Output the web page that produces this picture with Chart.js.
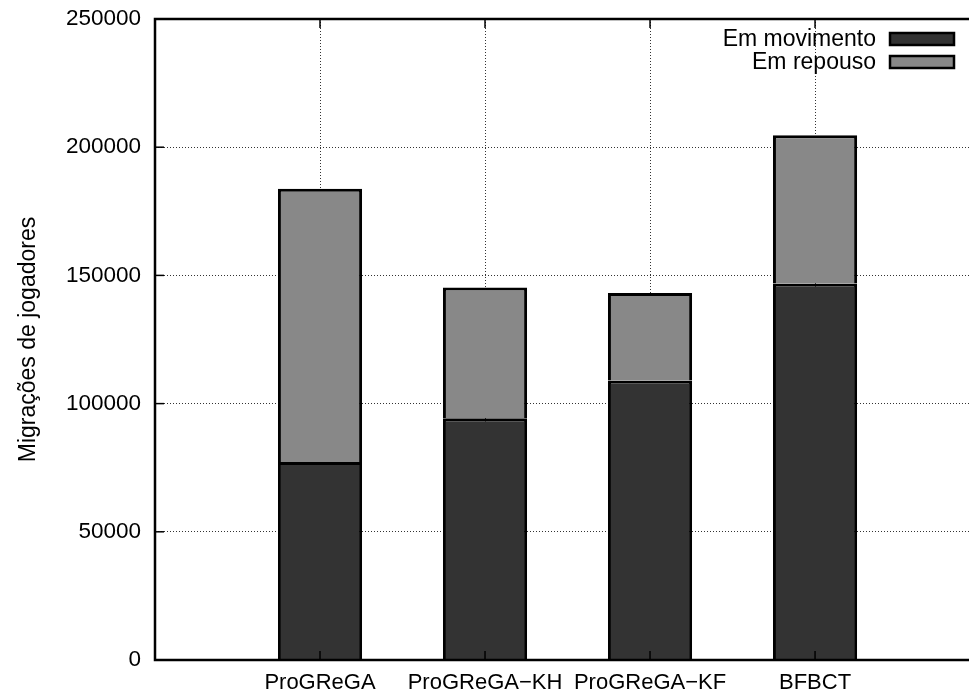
<!DOCTYPE html>
<html>
<head>
<meta charset="utf-8">
<script src="https://cdn.jsdelivr.net/npm/chart.js@4.4.0/dist/chart.umd.min.js"></script>
<style>
  html, body { margin: 0; padding: 0; background: #fff; }
  #wrap { width: 969px; height: 695px; }
</style>
</head>
<body>
<div id="wrap"><canvas id="migChart" width="969" height="695"></canvas></div>
<script>
// ──────── DATA ────────
const categories = ["ProGReGA", "ProGReGA\u2212KH", "ProGReGA\u2212KF", "BFBCT"];
const seriesNames = ["Em movimento", "Em repouso"];
const moving = [77200, 94300, 109000, 146800];
const resting = [106600, 51000, 34100, 57900];
const yTicks = [0, 50000, 100000, 150000, 200000, 250000];
const yTitle = "Migrações de jogadores";

const FONT = "'Liberation Sans', Arial, Helvetica, sans-serif";
const DARK = "#333333";
const LIGHT = "#888888";

// ──────── FRAME + INWARD TICKS (gnuplot look) ────────
const framePlugin = {
  id: "frame",
  afterDatasetsDraw(chart) {
    const { ctx, chartArea: a, scales } = chart;
    ctx.save();
    ctx.strokeStyle = "#000";
    ctx.lineWidth = 1.5;
    // ticks on left axis
    yTicks.forEach(v => {
      const y = scales.y.getPixelForValue(v);
      ctx.beginPath(); ctx.moveTo(a.left, y); ctx.lineTo(a.left + 9, y); ctx.stroke();
    });
    // ticks on top / bottom at categories
    categories.forEach((_, i) => {
      const x = scales.x.getPixelForValue(i + 1);
      ctx.beginPath(); ctx.moveTo(x, a.top); ctx.lineTo(x, a.top + 9); ctx.stroke();
      ctx.beginPath(); ctx.moveTo(x, a.bottom); ctx.lineTo(x, a.bottom - 9); ctx.stroke();
    });
    ctx.lineWidth = 2.5;
    ctx.beginPath();
    ctx.moveTo(chart.width, a.top);
    ctx.lineTo(a.left, a.top);
    ctx.lineTo(a.left, a.bottom);
    ctx.lineTo(chart.width, a.bottom);
    ctx.stroke();
    ctx.restore();
  }
};

// ──────── LEGEND (text left of swatch) ────────
const legendPlugin = {
  id: "gpLegend",
  afterDraw(chart) {
    const { ctx } = chart;
    ctx.save();
    ctx.font = "23px " + FONT;
    ctx.textAlign = "right";
    ctx.textBaseline = "middle";
    chart.data.datasets.forEach((ds, i) => {
      const cy = 39 + i * 23;
      ctx.fillStyle = "#000";
      ctx.fillText(ds.label, 876, cy + 1);
      ctx.fillStyle = ds.backgroundColor;
      ctx.fillRect(890, cy - 6, 64, 12);
      ctx.strokeStyle = "#000";
      ctx.lineWidth = 2.5;
      ctx.strokeRect(890, cy - 6, 64, 12);
    });
    ctx.restore();
  }
};

// ──────── CHART ────────
const ctx = document.getElementById("migChart").getContext("2d");
new Chart(ctx, {
  type: "bar",
  data: {
    datasets: [
      {
        label: seriesNames[0],
        data: moving.map((v, i) => ({ x: i + 1, y: v })),
        backgroundColor: DARK,
        borderColor: "#000",
        borderWidth: 3,
        borderSkipped: "bottom"
      },
      {
        label: seriesNames[1],
        data: resting.map((v, i) => ({ x: i + 1, y: v })),
        backgroundColor: LIGHT,
        borderColor: "#000",
        borderWidth: 3,
        borderSkipped: "bottom"
      }
    ]
  },
  options: {
    responsive: false,
    animation: false,
    layout: { padding: { top: 19, left: 0, right: 0, bottom: 0 } },
    plugins: { legend: { display: false }, tooltip: { enabled: false } },
    datasets: { bar: { barPercentage: 0.51, categoryPercentage: 1 } },
    scales: {
      x: {
        type: "linear",
        stacked: true,
        offset: false,
        min: 0,
        max: 4.933,
        afterBuildTicks: s => { s.ticks = categories.map((_, i) => ({ value: i + 1 })); },
        afterFit: s => { s.height = 35; s.paddingLeft = 0; s.paddingRight = 0; },
        ticks: {
          autoSkip: false,
          maxRotation: 0,
          padding: 10,
          color: "#000",
          font: { family: FONT, size: 22 },
          callback: v => categories[v - 1]
        },
        grid: { offset: false, color: "#333", lineWidth: 1, drawTicks: false },
        border: { display: false, dash: [1, 2] }
      },
      y: {
        stacked: true,
        min: 0,
        max: 250000,
        afterBuildTicks: s => { s.ticks = yTicks.map(v => ({ value: v })); },
        afterFit: s => { s.width = 155; s.paddingTop = 0; s.paddingBottom = 0; },
        ticks: {
          padding: 14,
          color: "#000",
          font: { family: FONT, size: 22.5 },
          callback: v => String(v)
        },
        grid: { color: "#333", lineWidth: 1, drawTicks: false },
        border: { display: false, dash: [1, 2] },
        title: {
          display: true,
          text: yTitle,
          color: "#000",
          font: { family: FONT, size: 23 },
          padding: { top: 15, bottom: 0 }
        }
      }
    }
  },
  plugins: [framePlugin, legendPlugin]
});
</script>
</body>
</html>
